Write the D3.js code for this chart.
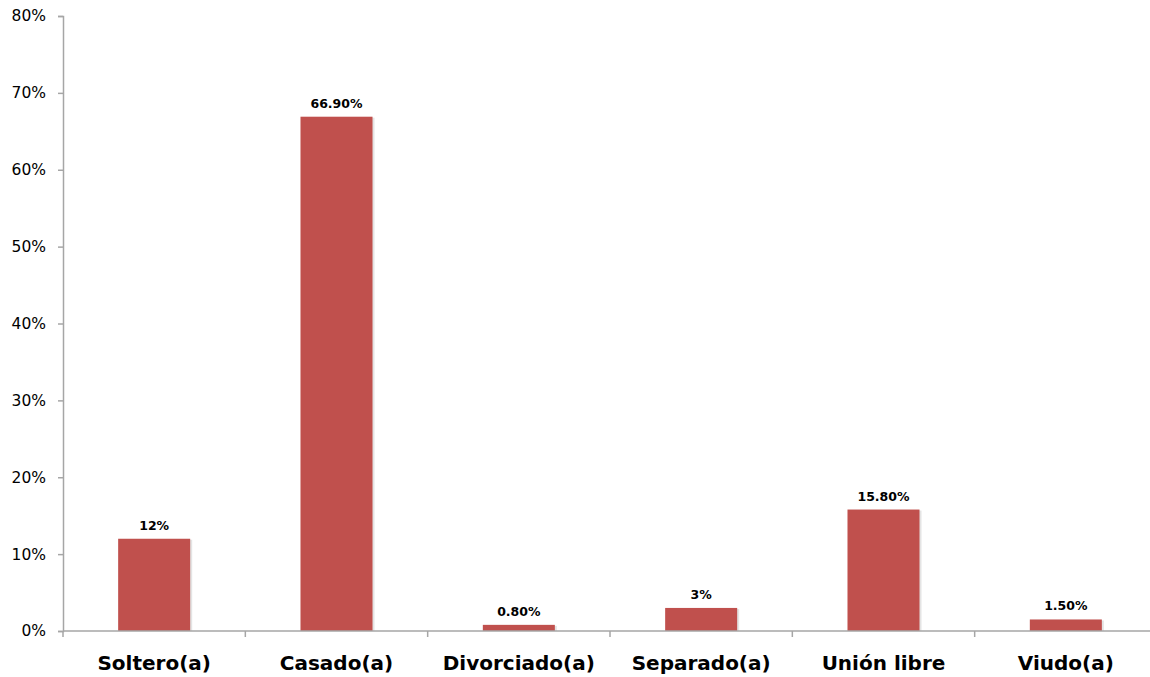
<!DOCTYPE html>
<html><head><meta charset="utf-8">
<script src="https://cdn.jsdelivr.net/npm/d3@7"></script>
<style>body{margin:0;background:#fff;}svg{display:block;}</style>
</head><body>
<script>
const categories = ["Soltero(a)", "Casado(a)", "Divorciado(a)", "Separado(a)", "Unión libre", "Viudo(a)"];
const values = [12, 66.9, 0.8, 3, 15.8, 1.5];
const valueLabels = ["12%", "66.90%", "0.80%", "3%", "15.80%", "1.50%"];
const yTicks = [0, 10, 20, 30, 40, 50, 60, 70, 80];

const W = 1150, H = 677;
const svg = d3.select("body").append("svg").attr("width", W).attr("height", H);
const x0 = 63, x1 = 1157, yTop = 16, yBot = 631;
const x = d3.scaleBand().domain(categories).range([x0, x1]).paddingInner(0.605).paddingOuter(0.3025);
const y = d3.scaleLinear().domain([0, 80]).range([yBot, yTop]);
const font = "Verdana, 'DejaVu Sans', sans-serif";
const axisCol = "#a6a6a6";

// bars shadows
svg.append("g").selectAll("rect").data(categories).join("rect")
  .attr("x", d => x(d) + 2).attr("y", (d,i) => y(values[i]) + 1)
  .attr("width", x.bandwidth()).attr("height", (d,i) => yBot - y(values[i]) - 1)
  .attr("fill", "#e4e4e4");
svg.append("g").selectAll("rect").data(categories).join("rect")
  .attr("x", d => x(d)).attr("y", (d,i) => y(values[i]))
  .attr("width", x.bandwidth()).attr("height", (d,i) => yBot - y(values[i]))
  .attr("fill", "#c0504d");

// y axis
const ya = svg.append("g").attr("transform", `translate(${x0},0)`)
  .call(d3.axisLeft(y).tickValues(yTicks).tickFormat(d => d + "%").tickSize(5).tickPadding(12));
ya.select(".domain").attr("stroke", axisCol).attr("stroke-width", 1.5);
ya.selectAll(".tick line").attr("stroke", axisCol).attr("stroke-width", 1.5);
ya.selectAll("text").attr("font-family", font).attr("font-size", 15.5).attr("fill", "#000");

// x axis
const step = x.step();
const bounds = d3.range(categories.length + 1).map(i => x0 + i * step);
svg.append("line").attr("x1", x0).attr("x2", x1).attr("y1", yBot).attr("y2", yBot)
  .attr("stroke", axisCol).attr("stroke-width", 1.5);
svg.append("g").selectAll("line").data(bounds).join("line")
  .attr("x1", d => d).attr("x2", d => d).attr("y1", yBot).attr("y2", yBot + 6)
  .attr("stroke", axisCol).attr("stroke-width", 1.5);

svg.append("g").selectAll("text").data(categories).join("text")
  .attr("x", d => x(d) + x.bandwidth() / 2).attr("y", 670)
  .attr("text-anchor", "middle").attr("font-family", font).attr("font-weight", "bold")
  .attr("font-size", 20).attr("fill", "#000").text(d => d);

// value labels
svg.append("g").selectAll("text").data(categories).join("text")
  .attr("x", d => x(d) + x.bandwidth() / 2).attr("y", (d,i) => y(values[i]) - 9)
  .attr("text-anchor", "middle").attr("font-family", font).attr("font-weight", "bold")
  .attr("font-size", 12.5).attr("fill", "#000").text((d,i) => valueLabels[i]);
</script>
</body></html>
